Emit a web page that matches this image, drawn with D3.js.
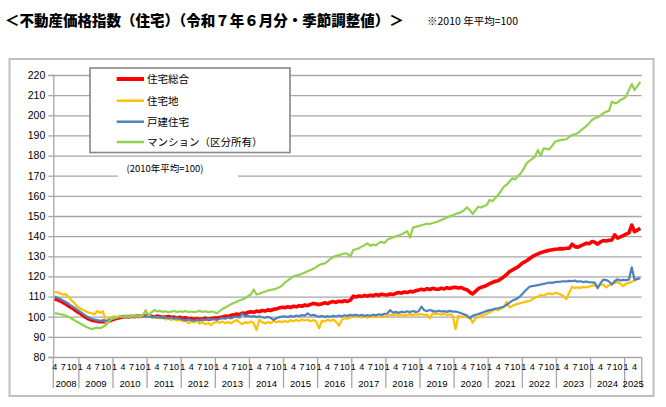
<!DOCTYPE html>
<html>
<head>
<meta charset="utf-8">
<script src="https://cdn.jsdelivr.net/npm/d3@7"></script>
<style>
  body { margin: 0; background: #fff; }
  text { font-family: "Liberation Sans", Arial, sans-serif; fill: #000; }
  .jp { font-family: "Noto Sans CJK JP", sans-serif; }
</style>
</head>
<body>
<svg id="chart" width="666" height="407"></svg>
<script>
// first month of data: 2008-04, last: 2025-06
const startYear = 2008, startMonth = 4, endYear = 2025, endMonth = 6;
const monthTicks = [1, 4, 7, 10];
const yTicks = d3.range(80, 221, 10);
const seriesNames = ["住宅総合", "住宅地", "戸建住宅", "マンション（区分所有）"];
const seriesColors = ["#ff0000", "#ffc000", "#4f81bd", "#92d050"];

// 住宅総合
const sogo = [
  108.8, 108.4, 107.8, 107.0, 106.2, 105.2, 104.4, 103.4, 102.5, // 2008 (4-12)
  101.6, 100.6, 99.6, 98.8, 98.3, 98.0, 97.7, 97.5, 97.6, 97.3, 97.8, 98.3,
  98.8, 99.2, 99.6, 99.8, 100.1, 99.9, 100.2, 100.0, 100.3, 100.1, 100.4, 100.3,
  100.6, 100.2, 99.9, 100.3, 100.0, 99.7, 99.9, 100.1, 99.6, 99.8, 99.4, 99.7,
  99.2, 99.5, 98.9, 99.1, 98.7, 99.0, 98.6, 98.9, 99.2, 98.8, 99.1, 99.3,
  99.3, 99.6, 99.9, 100.3, 100.1, 100.7, 100.9, 101.3, 101.1, 101.8, 101.6, 102.2,
  102.5, 102.2, 102.8, 102.5, 103.1, 102.8, 103.4, 103.1, 103.7, 103.9, 104.4, 104.7,
  104.5, 104.9, 104.6, 105.2, 104.9, 105.5, 105.2, 105.8, 105.5, 106.1, 106.6, 106.3,
  106.0, 106.4, 106.9, 106.5, 107.2, 107.5, 107.1, 107.7, 107.4, 107.9, 107.6, 108.2,
  110.2, 109.8, 110.3, 110.0, 110.6, 110.2, 110.7, 110.4, 111.0, 110.6, 111.2, 110.9,
  110.8, 111.3, 111.0, 111.6, 112.0, 111.7, 112.3, 112.0, 112.6, 112.3, 112.9, 113.2,
  113.6, 113.3, 113.9, 113.5, 114.1, 113.7, 113.6, 114.2, 113.8, 114.4, 114.0, 114.5,
  114.6, 114.2, 114.5, 113.8, 113.4, 112.2, 111.3, 112.6, 113.9, 114.6, 115.0, 115.6,
  116.4, 117.0, 117.6, 117.9, 118.8, 119.8, 121.0, 122.4, 123.2, 124.0, 124.8, 126.0,
  127.0, 127.8, 128.8, 129.8, 130.6, 131.2, 131.8, 132.2, 132.6, 133.0, 133.2, 133.5,
  133.6, 133.8, 133.7, 134.0, 134.0, 136.0, 134.8, 134.5, 135.2, 135.8, 136.5, 136.2,
  137.3, 137.0, 136.0, 137.2, 137.8, 137.6, 138.0, 138.1, 140.6, 139.0, 139.6, 140.3,
  141.0, 141.6, 145.5, 142.2, 143.0, 143.9 // 2025 (1-6)
];

// 住宅地
const takuchi = [
  112.3, 112.0, 111.6, 110.9, 111.2, 109.6, 108.0, 106.5, 105.0,
  104.0, 103.3, 102.6, 102.0, 101.7, 101.2, 102.8, 102.0, 102.6, 96.8, 99.2, 99.8,
  100.2, 99.6, 100.5, 99.8, 100.3, 100.6, 99.9, 100.4, 100.1, 100.7, 100.2, 99.9,
  100.5, 100.0, 99.4, 99.9, 99.2, 99.6, 98.6, 99.2, 98.4, 98.9, 98.1, 98.5,
  97.8, 98.3, 96.8, 97.6, 97.2, 97.8, 96.6, 97.4, 96.2, 96.9, 95.8, 97.0,
  97.4, 97.0, 97.6, 96.8, 97.4, 96.7, 97.6, 98.4, 97.2, 96.4, 97.3, 96.8,
  97.6, 96.8, 93.4, 98.6, 97.2, 96.6, 97.4, 96.8, 97.9, 97.2, 97.8, 97.3,
  97.9, 97.4, 98.3, 97.7, 98.4, 97.9, 98.6, 98.1, 98.5, 97.8, 98.4, 97.6,
  94.2, 98.0, 97.6, 98.6, 97.9, 98.7, 97.4, 95.5, 98.4, 99.3, 99.0, 99.6,
  101.0, 99.7, 100.2, 99.6, 100.0, 99.5, 100.1, 99.8, 100.3, 99.9, 100.5, 100.0,
  100.4, 101.0, 100.6, 101.2, 100.5, 101.0, 100.4, 100.9, 101.3, 100.8, 101.2, 101.0,
  101.4, 100.8, 101.0, 99.2, 101.8, 101.2, 101.6, 101.0, 101.4, 100.8, 101.2, 100.6,
  93.8, 100.5, 99.8, 100.4, 99.6, 100.0, 97.0, 99.2, 99.8, 100.3, 100.8, 101.4,
  102.2, 103.0, 103.8, 103.2, 104.0, 104.8, 107.4, 104.6, 105.4, 106.0, 106.4, 106.8,
  107.2, 107.6, 107.8, 108.6, 109.4, 110.0, 110.8, 110.4, 111.2, 111.6, 111.2, 111.8,
  111.6, 111.0, 110.2, 108.7, 112.0, 114.9, 114.2, 114.6, 114.3, 114.8, 114.5, 115.0,
  115.4, 115.7, 115.2, 115.8, 116.0, 114.5, 115.6, 116.3, 116.8, 117.2, 116.4, 115.2,
  116.4, 116.8, 117.4, 118.0, 118.6, 119.4
];

// 戸建住宅
const kodate = [
  110.0, 109.4, 108.8, 108.0, 107.2, 106.3, 105.3, 104.4, 103.4,
  102.4, 101.4, 100.4, 99.6, 99.0, 98.6, 98.2, 98.0, 98.2, 97.9, 98.4, 98.8,
  99.2, 99.6, 99.9, 100.2, 100.0, 100.3, 99.9, 100.2, 100.4, 100.1, 100.3, 100.0,
  100.3, 99.8, 100.1, 99.5, 99.8, 99.4, 99.7, 99.2, 99.5, 99.0, 99.3, 98.9,
  98.6, 98.2, 98.7, 98.3, 98.0, 98.5, 98.1, 98.6, 98.4, 98.9, 98.5, 98.8,
  98.4, 98.9, 99.3, 99.0, 99.6, 99.2, 99.8, 100.0, 99.6, 101.5, 100.2, 100.5,
  100.0, 100.3, 99.8, 100.2, 99.7, 99.5, 99.9, 99.4, 98.4, 99.2, 99.8, 100.0,
  100.2, 99.8, 100.4, 100.0, 100.6, 100.3, 100.8, 100.5, 101.7, 100.6, 100.9, 100.4,
  100.0, 100.4, 99.9, 100.3, 100.0, 100.5, 100.1, 100.6, 100.2, 100.7, 100.4, 100.9,
  100.6, 101.0, 100.5, 100.9, 100.4, 100.8, 100.5, 101.0, 100.7, 101.2, 100.9, 101.4,
  101.6, 103.3, 102.0, 102.4, 101.9, 102.5, 102.1, 102.7, 102.3, 102.8, 102.4, 102.6,
  105.0, 103.2, 102.8, 103.3, 102.9, 102.5, 103.0, 102.6, 102.8, 102.4, 102.9, 102.5,
  102.6, 102.2, 101.7, 101.2, 100.6, 99.2, 100.4, 100.9, 101.3, 101.8, 102.3, 102.9,
  103.3, 103.6, 104.0, 104.2, 104.6, 105.0, 105.8, 107.0, 108.0, 108.6, 109.3, 110.5,
  112.0, 113.5, 114.9, 115.2, 115.4, 115.7, 116.0, 116.3, 116.6, 117.0, 116.8, 117.2,
  117.3, 117.4, 117.6, 117.5, 117.8, 117.6, 117.9, 117.4, 117.6, 117.2, 117.5, 117.1,
  117.0, 116.9, 114.1, 116.6, 118.4, 118.2, 117.5, 116.0, 117.6, 118.6, 118.0, 118.3,
  118.2, 118.4, 124.5, 118.4, 118.8, 119.1
];

// マンション（区分所有）
const mansion = [
  101.7, 101.5, 101.2, 100.9, 100.5, 99.8, 99.0, 98.2, 97.4,
  96.6, 95.8, 95.0, 94.4, 93.9, 94.2, 94.6, 94.3, 95.0, 95.9, 97.5, 98.9,
  99.4, 99.8, 100.2, 99.7, 100.3, 99.9, 100.4, 100.0, 100.5, 99.8, 100.6, 103.2,
  100.6, 102.2, 103.3, 102.6, 102.9, 102.4, 102.7, 102.2, 102.5, 102.8, 102.3, 102.7,
  102.4, 102.8, 102.3, 102.6, 102.2, 102.5, 102.9, 102.4, 102.7, 102.3, 102.6, 102.4,
  101.6, 102.8, 103.8, 104.6, 105.4, 106.2, 106.8, 107.4, 108.0, 108.6, 109.2, 110.2,
  111.0, 113.5, 111.0, 111.4, 112.0, 112.4, 113.0, 113.3, 113.6, 114.0, 114.6, 115.5,
  117.0, 118.0, 119.0, 120.0, 120.4, 120.8, 121.3, 122.0, 122.6, 123.2, 123.8, 124.6,
  125.7, 126.2, 126.5, 127.5, 128.8, 129.6, 130.2, 130.6, 131.0, 131.5, 131.2, 129.9,
  133.1, 133.5, 134.0, 134.8, 135.5, 136.4, 135.3, 135.8, 135.4, 136.6, 137.2, 136.6,
  138.2, 138.8, 139.4, 139.9, 140.3, 140.9, 141.6, 142.5, 139.3, 144.2, 144.6, 145.0,
  145.4, 145.8, 146.2, 146.0, 146.5, 146.9, 147.4, 148.0, 148.6, 149.2, 149.8, 150.3,
  151.0, 151.4, 152.0, 152.8, 154.3, 153.0, 151.0, 152.8, 154.6, 154.2, 155.0, 155.5,
  158.0, 157.3, 159.0, 160.4, 162.5, 164.6, 165.5, 167.1, 168.7, 168.2, 170.0, 171.2,
  173.5, 176.2, 177.4, 178.3, 179.6, 182.8, 179.9, 183.6, 183.3, 183.1, 184.8, 186.9,
  187.4, 187.7, 187.9, 188.1, 189.3, 190.2, 190.6, 191.1, 192.4, 193.5, 194.6, 196.0,
  197.7, 198.5, 199.0, 200.0, 201.0, 201.8, 202.2, 206.8, 206.0, 206.3, 207.6, 208.2,
  209.3, 212.6, 215.5, 212.6, 214.5, 216.6
];

const allSeries = [sogo, takuchi, kodate, mansion];

// month categories
const months = [];
for (let yr = startYear; yr <= endYear; yr++) {
  const m0 = yr === startYear ? startMonth : 1;
  const m1 = yr === endYear ? endMonth : 12;
  for (let m = m0; m <= m1; m++) months.push({year: yr, month: m, key: yr + "-" + m});
}
const years = d3.range(startYear, endYear + 1);

const svg = d3.select("#chart");
const plotLeft = 53.3, plotRight = 641.7, plotTop = 75, plotBottom = 357, axisBottom = 388;

const x = d3.scaleBand().domain(months.map(d => d.key)).range([plotLeft, plotRight]).padding(0);
const y = d3.scaleLinear().domain([80, 220]).range([plotBottom, plotTop]);
const cx = i => x(months[i].key) + x.bandwidth() / 2;

const gridColor = "#a6a6a6";

// title
svg.append("text").attr("class", "jp")
  .attr("x", 5).attr("y", 26)
  .style("font-size", "14.5px").style("font-weight", "900")
  .text("＜不動産価格指数（住宅）（令和７年６月分・季節調整値）＞");
svg.append("text").attr("class", "jp")
  .attr("x", 427).attr("y", 25)
  .style("font-size", "10.5px")
  .text("※2010 年平均=100");

// chart frame
svg.append("rect")
  .attr("x", 9.5).attr("y", 59).attr("width", 644).attr("height", 337)
  .attr("fill", "none").attr("stroke", "#c0c0c0").attr("stroke-width", 2);

// gridlines
svg.append("g")
  .attr("transform", `translate(${plotLeft},0)`)
  .call(d3.axisLeft(y).tickValues(yTicks).tickSize(-(plotRight - plotLeft)).tickFormat(""))
  .call(g => g.select(".domain").remove())
  .call(g => g.selectAll("line").attr("stroke", gridColor).attr("stroke-width", 1.3));

// y axis
svg.append("g")
  .attr("transform", `translate(${plotLeft},0)`)
  .call(d3.axisLeft(y).tickValues(yTicks).tickSize(5).tickPadding(3))
  .call(g => g.select(".domain").attr("stroke", gridColor).attr("stroke-width", 1.3))
  .call(g => g.selectAll("line").attr("stroke", gridColor).attr("stroke-width", 1.3))
  .call(g => g.selectAll("text").style("font-size", "10.5px")
    .style("font-family", "'Liberation Sans', Arial, sans-serif"));

// category axis: year separators
const sepX = years.map(yr => x(months.find(d => d.year === yr).key)).concat([plotRight]);
svg.append("g").selectAll("line").data(sepX).join("line")
  .attr("x1", d => d).attr("x2", d => d)
  .attr("y1", plotBottom).attr("y2", axisBottom)
  .attr("stroke", gridColor).attr("stroke-width", 1.3);

svg.append("g").selectAll("text")
  .data(months.filter(d => monthTicks.includes(d.month)))
  .join("text")
  .attr("x", d => x(d.key) + x.bandwidth() / 2)
  .attr("y", 370)
  .attr("text-anchor", "middle")
  .style("font-size", "9px")
  .text(d => d.month);

svg.append("g").selectAll("text").data(years).join("text")
  .attr("x", (d, i) => (sepX[i] + sepX[i + 1]) / 2)
  .attr("y", 386.5)
  .attr("text-anchor", "middle")
  .style("font-size", "9.5px")
  .text(d => d);

// series lines
const line = d3.line().x((d, i) => cx(i)).y(d => y(d));
svg.append("g").selectAll("path").data(allSeries).join("path")
  .attr("d", line)
  .attr("fill", "none")
  .attr("stroke", (d, i) => seriesColors[i])
  .attr("stroke-width", (d, i) => i === 0 ? 3.6 : 2.2)
  .attr("stroke-linejoin", "round");

// legend
const lg = svg.append("g");
lg.append("rect")
  .attr("x", 90).attr("y", 68).attr("width", 200).attr("height", 84.5)
  .attr("fill", "#fff").attr("stroke", "#868686").attr("stroke-width", 1.6);
const rowY = [79, 100.7, 121.7, 142];
const items = lg.selectAll("g.item").data(seriesNames).join("g").attr("class", "item");
items.append("line")
  .attr("x1", 116.7).attr("x2", 144)
  .attr("y1", (d, i) => rowY[i]).attr("y2", (d, i) => rowY[i])
  .attr("stroke", (d, i) => seriesColors[i])
  .attr("stroke-width", (d, i) => i === 0 ? 4 : 2.5);
items.append("text").attr("class", "jp")
  .attr("x", 147).attr("y", (d, i) => rowY[i] + 3.8)
  .style("font-size", "10.5px")
  .text(d => d);

// base note label
svg.append("rect")
  .attr("x", 118).attr("y", 159).attr("width", 120).attr("height", 22)
  .attr("fill", "#fff");
svg.append("text").attr("class", "jp")
  .attr("x", 165).attr("y", 171.5)
  .attr("text-anchor", "middle")
  .style("font-size", "9.5px")
  .text("(2010年平均=100)");
</script>
</body>
</html>
